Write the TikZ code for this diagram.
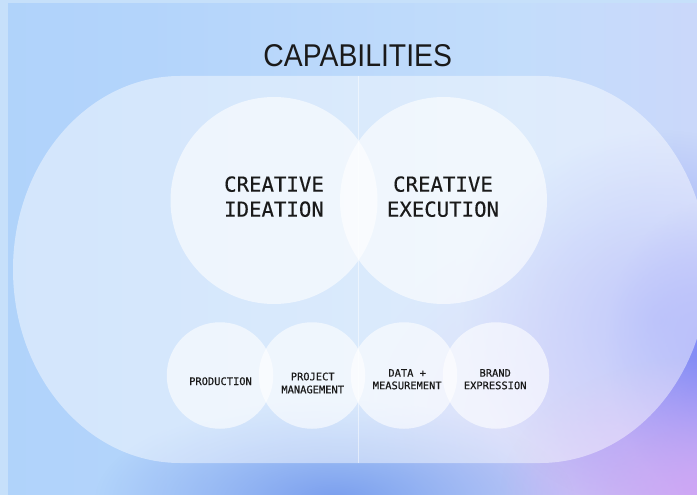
\documentclass[tikz,border=0pt]{standalone}
\usepackage{fontspec}
\usepackage{graphicx}
\setmainfont{Liberation Sans}
\newfontfamily\monofont[FakeBold=0.3]{DejaVu Sans Mono}
\newfontfamily\monofontsmall[FakeBold=0.5]{DejaVu Sans Mono}
\usetikzlibrary{fadings}
\tikzfading[name=blobfade, inner color=transparent!0, outer color=transparent!100]
\definecolor{framecol}{HTML}{C6E0FA}
\definecolor{bgA}{HTML}{A9CFF9}
\definecolor{bgB}{HTML}{B3D4FB}
\definecolor{bgC}{HTML}{C3DDFB}
\definecolor{bgD}{HTML}{CED5FA}
\definecolor{bgE}{HTML}{D8D0FA}
\definecolor{blobblue}{HTML}{7A9EEE}
\definecolor{blobmid}{HTML}{8E9EF6}
\definecolor{blobviolet}{HTML}{7F88F6}
\definecolor{bloblav}{HTML}{C4BCF6}
\definecolor{blobpurple}{HTML}{CFA4F4}
\definecolor{inkcol}{HTML}{1A1A1A}
\pgfdeclarehorizontalshading{bgshade}{100bp}{color(0bp)=(bgA); color(35bp)=(bgB); color(62bp)=(bgC); color(82bp)=(bgD); color(100bp)=(bgE)}
\begin{document}
\begin{tikzpicture}[x=1pt,y=-1pt,
  bigc/.style={circle, inner sep=0pt, minimum size=207pt, fill=white, fill opacity=0.6, draw=none},
  smallc/.style={circle, inner sep=0pt, minimum size=106.5pt, fill=white, fill opacity=0.6, draw=none},
  bigtxt/.style={font=\monofont\fontsize{20.7}{25}\selectfont, text=inkcol, anchor=base, inner sep=0pt},
  smalltxt/.style={font=\monofontsmall\fontsize{10.4}{12.8}\selectfont, text=inkcol, anchor=base, inner sep=0pt},
  titletxt/.style={font=\fontsize{31.5}{36}\selectfont, text=inkcol, anchor=base, inner sep=0pt}]
\useasboundingbox (0,0) rectangle (697,495);
% background
\fill[framecol] (0,0) rectangle (697,495);
\begin{scope}
\clip (8,4) rectangle (697,495);
\shade[shading=bgshade] (8,4) rectangle (697,495);
\fill[bloblav, path fading=blobfade] (610,420) ellipse (260 and 200);
\fill[blobmid, path fading=blobfade] (660,320) ellipse (200 and 190);
\fill[blobblue, path fading=blobfade] (335,500) ellipse (240 and 100);
\fill[blobviolet, path fading=blobfade] (715,350) ellipse (110 and 150);
\fill[blobpurple, path fading=blobfade] (710,495) ellipse (210 and 140);
\end{scope}
% large rounded container
\fill[white, fill opacity=0.45] (180,76) -- (540,76)
  arc[start angle=-90, end angle=90, x radius=168, y radius=193.5]
  -- (180,463)
  arc[start angle=90, end angle=270, x radius=167, y radius=193.5] -- cycle;
\coordinate (ltop) at (358,76);
\coordinate (lbot) at (358,463);
\draw[white, opacity=0.5, line width=0.8pt] (ltop) -- (lbot);
% title
\node[titletxt] (title) at (357.7,66.7) {\scalebox{0.9}[1]{CAPABILITIES}};
% big circles
\node[bigc] (ideation) at (274,200.5) {};
\node[bigc] (execution) at (443.5,200.5) {};
\node[bigtxt] (ideaA) at (274,191.7) {CREATIVE};
\node[bigtxt] (ideaB) at (274,216.7) {IDEATION};
\node[bigtxt] (execA) at (443,191.7) {CREATIVE};
\node[bigtxt] (execB) at (443,216.7) {EXECUTION};
% small circles
\node[smallc] (prod) at (220,375.5) {};
\node[smallc] (proj) at (312,375.5) {};
\node[smallc] (data) at (404,375.5) {};
\node[smallc] (brand) at (496,375.5) {};
\node[smalltxt] (prodA) at (220.5,385) {PRODUCTION};
\node[smalltxt] (projA) at (312.7,380.3) {PROJECT};
\node[smalltxt] (projB) at (312.7,393.3) {MANAGEMENT};
\node[smalltxt] (dataA) at (407.2,376.7) {DATA +};
\node[smalltxt] (dataB) at (407.2,389.2) {MEASUREMENT};
\node[smalltxt] (brandA) at (495.2,376.7) {BRAND};
\node[smalltxt] (brandB) at (495.2,389.2) {EXPRESSION};
\end{tikzpicture}
\end{document}
